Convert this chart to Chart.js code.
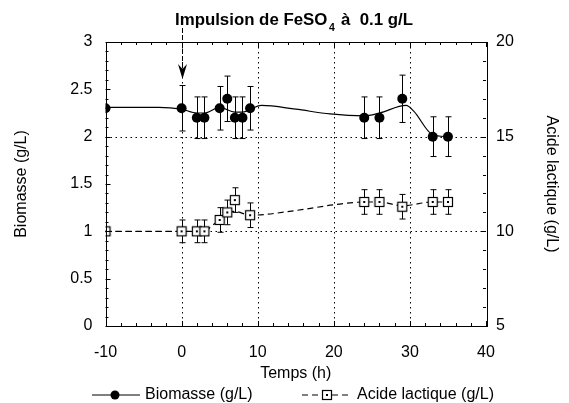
<!DOCTYPE html>
<html>
<head>
<meta charset="utf-8">
<script src="https://cdn.jsdelivr.net/npm/chart.js@4.4.1/dist/chart.umd.min.js"></script>
<style>
  html, body { margin: 0; padding: 0; background: #fff; }
  #wrap { width: 569px; height: 403px; }
</style>
</head>
<body>
<div id="wrap"><canvas id="graphe"></canvas></div>
<script>
const temps = [-10, 0, 2, 3, 5, 6, 7, 8, 9, 24, 26, 29, 33, 35];
const biomasse = [2.3, 2.3, 2.2, 2.2, 2.3, 2.4, 2.2, 2.2, 2.3, 2.2, 2.2, 2.4, 2.0, 2.0];
const biomasseErr = [0, 0.24, 0.22, 0.22, 0.23, 0.24, 0.22, 0.22, 0.23, 0.22, 0.22, 0.25, 0.21, 0.21];

const tempsAcide = [-10, 0, 2, 3, 5, 6, 7, 9, 24, 26, 29, 33, 35];
const acide = [10, 10, 10, 10, 10.6, 11, 11.65, 10.85, 11.55, 11.55, 11.3, 11.55, 11.55];
const acideErr = [0, 0.6, 0.6, 0.6, 0.65, 0.65, 0.65, 0.65, 0.65, 0.65, 0.65, 0.65, 0.65];

// courbes lissées tracées à la main sur la figure
const tempsLissage = [-10, -3, 0, 2, 3, 5, 7, 8, 10.5, 15, 19.5, 24, 26, 29.5, 30.5, 33, 35];
const biomasseLissage = [2.31, 2.31, 2.29, 2.25, 2.25, 2.31, 2.26, 2.26, 2.33, 2.29, 2.24, 2.22, 2.25, 2.33, 2.27, 2.02, 2.0];
const tempsLissageAcide = [-10, 0, 3, 4, 5, 6, 7, 9, 15, 20, 24, 26, 29, 33, 35];
const acideLissage = [10, 10, 10, 10.3, 10.6, 11, 11.05, 10.85, 11.1, 11.4, 11.55, 11.55, 11.35, 11.55, 11.55];

// axes
const ticksX = [-10, 0, 10, 20, 30, 40];
const grilleX = [0, 10, 20, 30];
const grilleY = [1, 2];

const POLICE = '"Liberation Sans", Arial, Helvetica, sans-serif';
Chart.defaults.font.family = POLICE;
Chart.defaults.font.size = 16;
Chart.defaults.color = '#000';

function pts(xs, ys) { return xs.map((x, i) => ({ x: x, y: ys[i] })); }

// marqueur carré ouvert avec point central
function marqueurCarre() {
    const c = document.createElement('canvas');
    c.width = 12; c.height = 12;
    const g = c.getContext('2d');
    g.fillStyle = '#fff';
    g.fillRect(1.5, 1.5, 9, 9);
    g.strokeStyle = '#000';
    g.lineWidth = 1.2;
    g.strokeRect(1.5, 1.5, 9, 9);
    g.fillStyle = '#000';
    g.fillRect(5, 5, 2, 2);
    return c;
}
const carre = marqueurCarre();

function trait(ctx, x1, y1, x2, y2) {
    ctx.beginPath();
    ctx.moveTo(x1, y1);
    ctx.lineTo(x2, y2);
    ctx.stroke();
}

const decor = {
    id: 'decor',
    beforeDatasetsDraw(chart) {
        const { ctx, chartArea: a, scales } = chart;
        const x = scales.x, y = scales.y, y2 = scales.y2;
        ctx.save();
        ctx.strokeStyle = '#000';
        ctx.lineWidth = 1;
        ctx.setLineDash([1.5, 3.5]);
        grilleX.forEach(v => {
            const px = Math.round(x.getPixelForValue(v)) + 0.5;
            trait(ctx, px, a.top, px, a.bottom);
        });
        grilleY.forEach(v => {
            const py = Math.round(y.getPixelForValue(v)) + 0.5;
            trait(ctx, a.left, py, a.right, py);
        });
        ctx.setLineDash([]);

        // barres d'erreur
        function barres(xs, ys, errs, sc) {
            xs.forEach((t, i) => {
                if (!errs[i]) return;
                const px = Math.round(x.getPixelForValue(t)) + 0.5;
                const hi = sc.getPixelForValue(ys[i] + errs[i]);
                const lo = sc.getPixelForValue(ys[i] - errs[i]);
                trait(ctx, px, hi, px, lo);
                trait(ctx, px - 3, hi, px + 3, hi);
                trait(ctx, px - 3, lo, px + 3, lo);
            });
        }
        barres(temps, biomasse, biomasseErr, y);
        barres(tempsAcide, acide, acideErr, y2);
        ctx.restore();
    },
    afterDatasetsDraw(chart) {
        const { ctx, chartArea: a, scales } = chart;
        const x = scales.x, y = scales.y, y2 = scales.y2;
        ctx.save();
        ctx.strokeStyle = '#000';
        ctx.lineWidth = 1;
        ctx.strokeRect(Math.round(a.left) + 0.5, Math.round(a.top) + 0.5,
            Math.round(a.right - a.left), Math.round(a.bottom - a.top));

        // graduations vers l'intérieur
        for (let v = -10; v <= 40; v += 2) {
            const px = Math.round(x.getPixelForValue(v)) + 0.5;
            const l = (v % 10 === 0) ? 5 : 3;
            trait(ctx, px, a.bottom, px, a.bottom - l);
            trait(ctx, px, a.top, px, a.top + l);
        }
        for (let k = 0; k <= 30; k++) {
            const py = Math.round(y.getPixelForValue(k / 10)) + 0.5;
            const l = (k % 5 === 0) ? 5 : 3;
            trait(ctx, a.left, py, a.left + l, py);
        }
        for (let v = 5; v <= 20; v++) {
            const py = Math.round(y2.getPixelForValue(v)) + 0.5;
            const l = (v % 5 === 0) ? 5 : 3;
            trait(ctx, a.right, py, a.right - l, py);
        }

        // flèche de l'impulsion
        const px0 = Math.round(x.getPixelForValue(0)) + 0.5;
        ctx.setLineDash([5, 2]);
        trait(ctx, px0, 28, px0, 70);
        ctx.setLineDash([]);
        ctx.fillStyle = '#000';
        ctx.beginPath();
        ctx.moveTo(px0, 79);
        ctx.lineTo(px0 - 4.5, 64);
        ctx.lineTo(px0, 69);
        ctx.lineTo(px0 + 4.5, 64);
        ctx.closePath();
        ctx.fill();
        ctx.restore();
    },
    afterDraw(chart) {
        const { ctx, chartArea: a } = chart;
        ctx.save();
        ctx.fillStyle = '#000';
        ctx.textBaseline = 'alphabetic';

        // titre avec indice, étiré à la largeur de la figure
        const p1 = 'Impulsion de FeSO', p2 = '4', p3 = ' à  0.1 g/L';
        const fTitre = 'bold 16px ' + POLICE, fIndice = 'bold 10px ' + POLICE;
        ctx.font = fTitre;
        const w1 = ctx.measureText(p1).width, w3 = ctx.measureText(p3).width;
        ctx.font = fIndice;
        const w2 = ctx.measureText(p2).width + 3;
        const total = w1 + w2 + w3;
        const sx = 238 / total;
        ctx.translate(294 - 119, 0);
        ctx.scale(sx, 1);
        ctx.font = fTitre;
        ctx.fillText(p1, 0, 25);
        ctx.font = fIndice;
        ctx.fillText(p2, w1 + 1.5, 31);
        ctx.font = fTitre;
        ctx.fillText(p3, w1 + w2, 25);
        ctx.setTransform(1, 0, 0, 1, 0, 0);

        // légende
        const yl = 395;
        ctx.font = '16px ' + POLICE;
        ctx.textBaseline = 'middle';
        ctx.strokeStyle = '#000';
        ctx.lineWidth = 1;
        trait(ctx, 92, yl, 140, yl);
        ctx.beginPath();
        ctx.arc(115, yl, 4.5, 0, Math.PI * 2);
        ctx.fill();
        ctx.fillText(chart.data.datasets[0].label, 145, yl);

        ctx.setLineDash([6, 4]);
        trait(ctx, 302, yl, 352, yl);
        ctx.setLineDash([]);
        ctx.drawImage(carre, 327 - 6, yl - 6);
        ctx.fillText(chart.data.datasets[1].label, 357, yl);
        ctx.restore();
    }
};

new Chart(document.getElementById('graphe'), {
    type: 'line',
    data: {
        datasets: [
            {
                label: 'Biomasse (g/L)',
                data: pts(temps, biomasse),
                yAxisID: 'y',
                showLine: false,
                pointStyle: 'circle',
                pointRadius: 5,
                pointBackgroundColor: '#000',
                pointBorderColor: '#000',
                pointBorderWidth: 0
            },
            {
                label: 'Acide lactique (g/L)',
                data: pts(tempsAcide, acide),
                yAxisID: 'y2',
                showLine: false,
                pointStyle: carre,
                pointRadius: 6
            },
            {
                label: 'Biomasse lissée',
                data: pts(tempsLissage, biomasseLissage),
                yAxisID: 'y',
                borderColor: '#000',
                borderWidth: 1.2,
                pointRadius: 0,
                cubicInterpolationMode: 'monotone',
                fill: false
            },
            {
                label: 'Acide lactique lissé',
                data: pts(tempsLissageAcide, acideLissage),
                yAxisID: 'y2',
                borderColor: '#000',
                borderWidth: 1.2,
                borderDash: [6, 4],
                pointRadius: 0,
                cubicInterpolationMode: 'monotone',
                fill: false
            }
        ]
    },
    options: {
        animation: false,
        responsive: true,
        maintainAspectRatio: false,
        layout: { padding: { top: 42, bottom: 20, left: 0, right: 0 } },
        plugins: {
            legend: { display: false },
            tooltip: { enabled: false },
            title: { display: false }
        },
        scales: {
            x: {
                type: 'linear',
                min: -10,
                max: 40,
                afterBuildTicks: s => { s.ticks = ticksX.map(v => ({ value: v })); },
                ticks: { padding: 17, maxRotation: 0 },
                grid: { display: false, drawTicks: false },
                border: { display: false },
                title: { display: true, text: 'Temps (h)', padding: { top: 0, bottom: 0 } },
                afterFit: s => { s.height = 403 - 20 - 326; }
            },
            y: {
                position: 'left',
                min: 0,
                max: 3,
                ticks: { stepSize: 0.5, padding: 13, callback: v => String(v) },
                grid: { display: false, drawTicks: false },
                border: { display: false },
                title: { display: true, text: 'Biomasse (g/L)', padding: { top: 12, bottom: 0 } },
                afterFit: s => { s.width = 105.5; }
            },
            y2: {
                position: 'right',
                min: 5,
                max: 20,
                ticks: { stepSize: 5, padding: 10, callback: v => String(v) },
                grid: { display: false, drawTicks: false },
                border: { display: false },
                title: { display: true, text: 'Acide lactique (g/L)', padding: { top: 8, bottom: 0 } },
                afterFit: s => { s.width = 83; }
            }
        }
    },
    plugins: [decor]
});
</script>
</body>
</html>
